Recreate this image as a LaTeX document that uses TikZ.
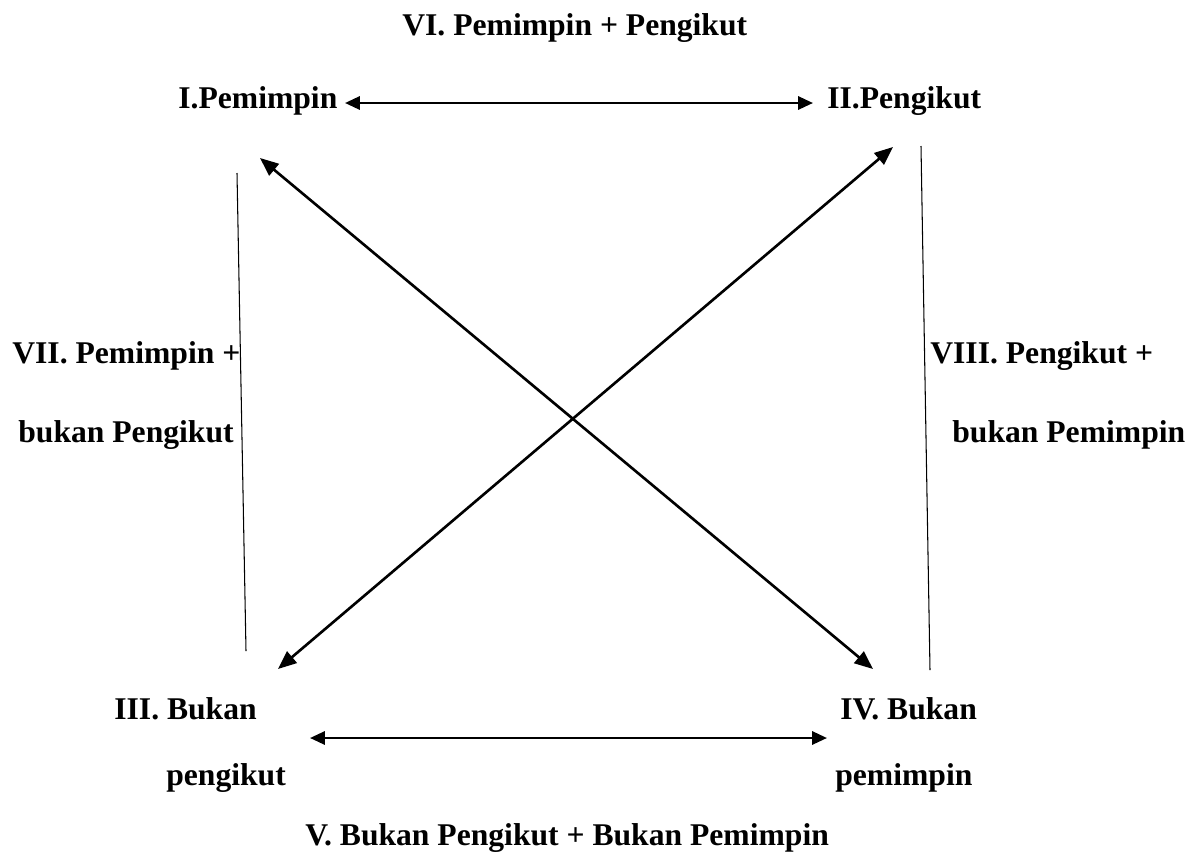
\documentclass[tikz,border=0pt]{standalone}
\usepackage{fontspec}
\setmainfont{Liberation Serif}
\usepackage{tikz}
\usetikzlibrary{arrows.meta,positioning}

\begin{document}
\begin{tikzpicture}[x=0.02cm, y=-0.02cm, font=\fontsize{18}{22}\selectfont\bfseries,
  lbl/.style={inner sep=0pt, anchor=base west},
  harr/.style={{Triangle[length=8.5pt,width=7.5pt]}-{Triangle[length=8.5pt,width=7.5pt]}, line width=1.5pt},
  darr/.style={{Triangle[length=10.5pt,width=8.5pt]}-{Triangle[length=10.5pt,width=8.5pt]}, line width=1.5pt},
  side/.style={line width=0.6pt}]
\useasboundingbox (0,0) rectangle (1198,853);
% titles
\node[lbl] (six) at (402,35) {VI. Pemimpin + Pengikut};
\node[lbl] (five) at (305,845) {V. Bukan Pengikut + Bukan Pemimpin};
% corners
\node[lbl] (lead) at (178,108) {I.Pemimpin};
\node[lbl] (foll) at (827,108) {II.Pengikut};
\node[lbl] (nfoll) at (114,719) {III. Bukan};
\node[lbl] (nfoll2) at (166,785) {pengikut};
\node[lbl] (nlead) at (840,719) {IV. Bukan};
\node[lbl] (nlead2) at (835,785) {pemimpin};
% sides
\node[lbl] (seven) at (12,363) {VII. Pemimpin +};
\node[lbl] (seven2) at (18,442) {bukan Pengikut};
\node[lbl] (eight) at (930,363) {VIII. Pengikut +};
\node[lbl] (eight2) at (952,442) {bukan Pemimpin};
% arrow ends
\coordinate (t1) at (345,103);
\coordinate (t2) at (813,103);
\coordinate (b1) at (310,738);
\coordinate (b2) at (827,738);
\coordinate (a1) at (260,158);
\coordinate (a4) at (873,669);
\coordinate (a2) at (893,147);
\coordinate (a3) at (278,669);
\coordinate (l1) at (237,173);
\coordinate (l3) at (246,651);
\coordinate (r2) at (921,146);
\coordinate (r4) at (930,670);
\draw[harr] (t1) -- (t2);
\draw[harr] (b1) -- (b2);
\draw[darr] (a1) -- (a4);
\draw[darr] (a2) -- (a3);
\draw[side] (l1) -- (l3);
\draw[side] (r2) -- (r4);
\end{tikzpicture}
\end{document}
